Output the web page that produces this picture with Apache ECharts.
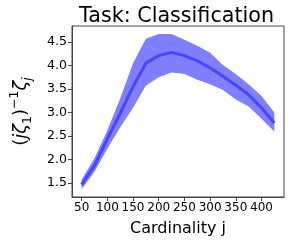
<!DOCTYPE html>
<html><head><meta charset="utf-8">
<script src="https://cdn.jsdelivr.net/npm/echarts@6/dist/echarts.min.js"></script>
<style>html,body{margin:0;padding:0;background:#fff}#c{width:291px;height:242px}</style>
</head><body><div id="c"></div>
<script>
const cardinality = [50,75,100,125,150,175,200,225,250,275,300,325,350,375,400,425];
const meanVals  = [1.47,1.87,2.44,2.98,3.55,4.05,4.21,4.28,4.21,4.10,3.95,3.77,3.58,3.38,3.10,2.78];
const upperVals = [1.57,2.03,2.62,3.30,4.05,4.57,4.67,4.67,4.55,4.42,4.27,4.01,3.82,3.60,3.35,3.00];
const lowerVals = [1.37,1.74,2.23,2.68,3.10,3.57,3.75,3.85,3.82,3.70,3.60,3.48,3.28,3.13,2.87,2.60];
const xTicks = [50,100,150,200,250,300,350,400];
const yTicks = [1.5,2.0,2.5,3.0,3.5,4.0,4.5];

const F = 'DejaVu Sans';
const chart = echarts.init(document.getElementById('c'), null, {renderer:'canvas'});
const pair = (xs, ys) => xs.map((x,i)=>[x, ys[i]]);
const xMin = 31.25, xMax = 443.75;
const yMin = 1.205, yMax = 4.84;
const bandData = cardinality.map((x,i)=>[x, lowerVals[i], upperVals[i]]);
chart.setOption({
  animation:false,
  title:{text:'Task: Classification', left:74, top:1,
    textStyle:{fontFamily:F, fontSize:20.7, fontWeight:'normal', color:'#000'}},
  grid:{left:59, right:7, top:26, bottom:44, show:true, borderColor:'#444', borderWidth:1, containLabel:false},
  xAxis:{type:'value', min:xMin, max:xMax,
    name:'Cardinality j', nameLocation:'middle', nameGap:24,
    nameTextStyle:{fontFamily:F, fontSize:16, color:'#000'},
    axisLine:{show:true, lineStyle:{color:'#444'}},
    axisTick:{show:true, length:4, lineStyle:{color:'#444'}, customValues:xTicks},
    axisLabel:{fontFamily:F, fontSize:12, color:'#000', margin:5, customValues:xTicks,
      hideOverlap:false, formatter:v=>String(v)},
    splitLine:{show:false}},
  yAxis:{type:'value', min:yMin, max:yMax,
    name:'{p|(}{a|jζ}{sub|1}{p|)}{sup|−1}{a|ζ}{subi|j}', nameLocation:'middle', nameGap:38, nameRotate:90,
    nameTextStyle:{fontFamily:F, fontSize:18, color:'#000',
      rich:{
        p:{fontFamily:F, fontSize:18, lineHeight:26, color:'#000'},
        a:{fontFamily:F, fontSize:18, fontStyle:'italic', lineHeight:26, color:'#000'},
        sub:{fontFamily:F, fontSize:12.5, lineHeight:14, verticalAlign:'bottom', color:'#000'},
        subi:{fontFamily:F, fontSize:12.5, fontStyle:'italic', lineHeight:14, verticalAlign:'bottom', color:'#000'},
        sup:{fontFamily:F, fontSize:12.5, lineHeight:12, verticalAlign:'top', color:'#000'}
      }},
    axisLine:{show:true, lineStyle:{color:'#444'}},
    axisTick:{show:true, length:4, lineStyle:{color:'#444'}, customValues:yTicks},
    axisLabel:{fontFamily:F, fontSize:12.5, color:'#000', margin:5, customValues:yTicks,
      formatter:v=>v.toFixed(1)},
    splitLine:{show:false}},
  series:[
    {type:'custom', data:bandData, silent:true, coordinateSystem:'cartesian2d',
      encode:{x:0, y:[1,2]},
      renderItem:function(params, api){
        if (params.dataIndex !== 0) return null;
        const up = [], lo = [];
        for (let i=0;i<bandData.length;i++){
          up.push(api.coord([bandData[i][0], bandData[i][2]]));
          lo.push(api.coord([bandData[i][0], bandData[i][1]]));
        }
        return {type:'polygon', shape:{points:up.concat(lo.reverse())},
          style:{fill:'#7f7fff', stroke:null}};
      }},
    {type:'line', data:pair(cardinality, meanVals), symbol:'none',
      lineStyle:{color:'#4646ff', width:3}}
  ]
});
</script></body></html>
